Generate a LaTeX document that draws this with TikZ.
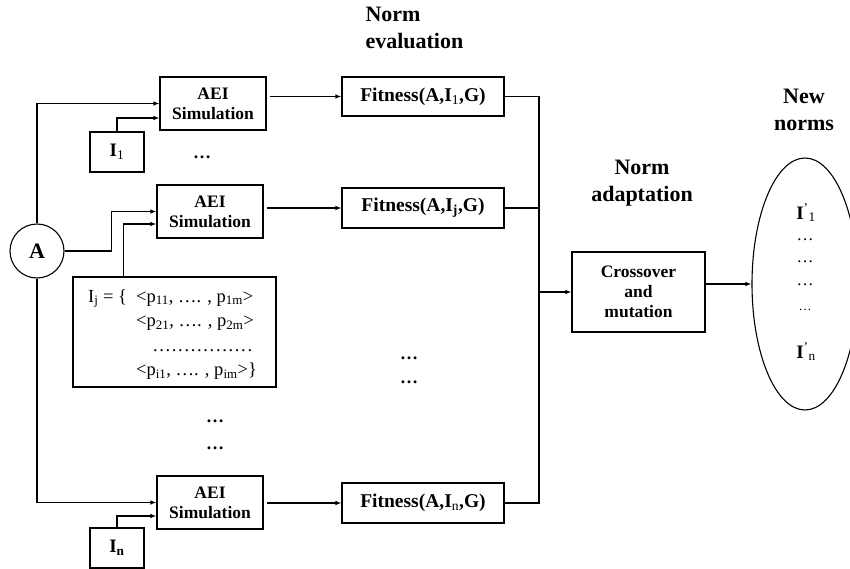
\documentclass[tikz,border=0pt]{standalone}
\usepackage{fontspec}
\setmainfont{Liberation Serif}
\usetikzlibrary{arrows.meta,calc,shapes.geometric}
\begin{document}
\begin{tikzpicture}[x=1pt,y=-1pt,
  box/.style={draw,line width=1.1pt,inner sep=0pt,align=center,font=\fontsize{17.5}{20}\selectfont\bfseries},
  arr/.style={line width=1.1pt,-{Latex[length=6pt,width=4.5pt]}},
  ln/.style={line width=1.1pt},
  ttl/.style={align=center,font=\fontsize{22}{27}\selectfont\bfseries},
  bdots/.style={inner sep=0pt,font=\fontsize{18}{20}\selectfont\bfseries},
  rtext/.style={inner sep=0pt,font=\fontsize{17}{20}\selectfont}
]
\useasboundingbox (0,0) rectangle (850,569);

% titles
\node[ttl,align=left,anchor=west] (tEval) at (362,28) {Norm\\evaluation};
\node[ttl] (tAdapt) at (642,183) {Norm\\adaptation};
\node[ttl] (tNew) at (804,110) {New\\norms};

% left side
\node[draw,circle,line width=1.1pt,minimum size=54pt,inner sep=0pt,font=\fontsize{22}{24}\selectfont\bfseries] (A) at (37,251) {A};

\node[box,minimum width=106pt,minimum height=53pt] (aei1) at (213,103.5) {AEI\\Simulation};
\node[box,minimum width=106pt,minimum height=53pt] (aei2) at (210,211.5) {AEI\\Simulation};
\node[box,minimum width=106pt,minimum height=53pt] (aei3) at (210,502.5) {AEI\\Simulation};

\node[box,minimum width=54pt,minimum height=40pt,font=\fontsize{19}{20}\selectfont\bfseries] (i1) at (117,152) {I\textsubscript{\mdseries 1}};
\node[box,minimum width=54pt,minimum height=40pt,font=\fontsize{19}{20}\selectfont\bfseries] (in) at (117,548) {I\textsubscript{n}};

\node[draw,line width=1.1pt,minimum width=203pt,minimum height=110pt,inner sep=0pt] (ij) at (174.5,332) {};
\node[rtext,anchor=west] (ijtext) at (88,334) {\fontsize{18.5}{24.5}\selectfont
  \begin{tabular}{@{}l@{}l@{}}
  \makebox[48pt][l]{I\textsubscript{j} = \{} & <p\textsubscript{11}, …. , p\textsubscript{1m}> \\
   & <p\textsubscript{21}, …. , p\textsubscript{2m}> \\
   & \hspace{16pt}\hbox to 101pt{\leaders\hbox to 6.3pt{\hss.\hss}\hfil} \\
   & <p\textsubscript{i1}, …. , p\textsubscript{im}>\}
  \end{tabular}};

\node[bdots] (d1) at (202,157) {…};
\node[bdots] (d4) at (215,421) {…};
\node[bdots] (d5) at (215,448) {…};

% fitness
\node[box,minimum width=162pt,minimum height=39pt,font=\fontsize{19.5}{20}\selectfont\bfseries] (fit1) at (423,96.5) {Fitness(A,I\textsubscript{\mdseries 1},G)};
\node[box,minimum width=162pt,minimum height=40pt,font=\fontsize{19.5}{20}\selectfont\bfseries] (fit2) at (423,208) {Fitness(A,I\textsubscript{j},G)};
\node[box,minimum width=162pt,minimum height=40pt,font=\fontsize{19.5}{20}\selectfont\bfseries] (fit3) at (423,503) {Fitness(A,I\textsubscript{\mdseries n},G)};

\node[bdots] (d2) at (409,358) {…};
\node[bdots] (d3) at (409,382) {…};

% adaptation
\node[box,minimum width=133pt,minimum height=80pt] (cross) at (638.5,292) {Crossover\\and\\mutation};

\node[draw,ellipse,line width=1.1pt,minimum width=106pt,minimum height=252pt,inner sep=0pt] (ell) at (805,284) {};
\node[rtext,font=\fontsize{19}{20}\selectfont] (e1) at (806,213) {\textbf{I}\textsuperscript{’}\textsubscript{1}};
\node[rtext] (e2) at (805,240) {…};
\node[rtext] (e3) at (805,262) {…};
\node[rtext] (e4) at (805,285) {…};
\node[rtext,font=\fontsize{13}{15}\selectfont] (e5) at (805,310) {…};
\node[rtext,font=\fontsize{19}{20}\selectfont] (e6) at (806,352) {\textbf{I}\textsuperscript{’}\textsubscript{n}};

% connectors
\draw[arr] (A.north) |- (aei1.west);
\draw[arr] (i1.north) |- ([yshift=-14.5pt]aei1.west);
\draw[arr] (A.east) -- ++(47,0) |- (aei2.west);
\draw[arr] ($(ij.north west)+(51,0)$) |- ([yshift=-12.5pt]aei2.west);
\draw[arr] (A.south) |- (aei3.west);
\draw[arr] (in.north) |- ([yshift=-13.5pt]aei3.west);

\draw[arr,shorten <=3pt] (aei1.east |- fit1.west) -- (fit1.west);
\draw[arr,shorten <=3pt] (aei2.east |- fit2.west) -- (fit2.west);
\draw[arr,shorten <=3pt] (aei3.east |- fit3.west) -- (fit3.west);

\coordinate (bus) at (539,292);
\draw[ln] (fit1.east) -| (bus) |- (fit3.east);
\draw[ln] (fit2.east) -- (fit2.east -| bus);
\draw[arr] (bus) -- (cross.west);
\draw[arr] (cross.east |- ell.west) -- (ell.west);
\end{tikzpicture}
\end{document}
